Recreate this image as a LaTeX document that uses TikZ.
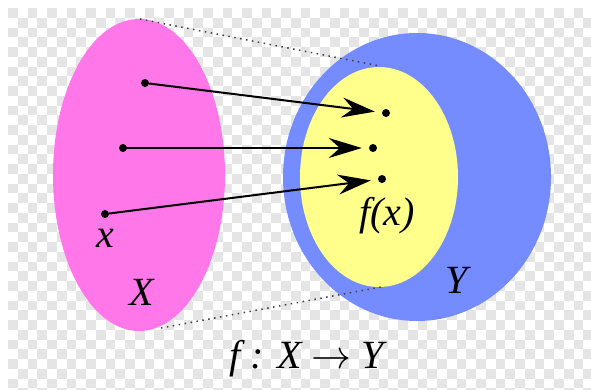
\RequirePackage{fix-cm}
\documentclass[tikz,border=0pt]{standalone}
\usepackage{fontspec}
\setmainfont{Liberation Serif}
\usetikzlibrary{arrows.meta}
\definecolor{setpink}{RGB}{255,119,233}
\definecolor{setblue}{RGB}{116,140,255}
\definecolor{setyellow}{RGB}{255,255,140}
\definecolor{checkgray}{RGB}{229,229,229}

\begin{document}
\begin{tikzpicture}[x=1pt,y=-1pt,
  pt/.style={circle,fill=black,inner sep=0pt,minimum size=8pt},
  maparrow/.style={-{Stealth[length=33pt,width=20pt,inset=11pt]},line width=2pt,shorten >=7pt},
  guide/.style={line width=1.5pt,dash pattern=on 1.5pt off 4.5pt,black!75},
  lbl/.style={font=\fontsize{40}{44}\selectfont\itshape}]
\useasboundingbox (0,0) rectangle (591,389);
% Background
\fill[white] (0,0) rectangle (591,389);
\begin{scope}
\clip (8,8) rectangle (591,389);
\foreach \i in {0,...,59}
  \foreach \j in {0,...,39} {
    \pgfmathtruncatemacro\odd{mod(\i+\j,2)}
    \ifnum\odd=0 \fill[checkgray] ({8+9.75*\i},{8+9.75*\j}) rectangle +(9.75,9.75); \fi
  }
\end{scope}
% Sets
\fill[setpink] (139,175) ellipse [x radius=86, y radius=156];
\fill[setblue] (417,177) ellipse [x radius=134, y radius=144];
\fill[setyellow] (379,177) ellipse [x radius=79, y radius=110];
% Guides
\coordinate (xtop) at (140,19);
\coordinate (ftop) at (380,66);
\coordinate (xbot) at (161,328);
\coordinate (fbot) at (381,287);
\draw[guide] (xtop) -- (ftop);
\draw[guide] (xbot) -- (fbot);
% Points
\node[pt] (a1) at (145,83) {};
\node[pt] (a2) at (123,148) {};
\node[pt] (a3) at (105,214) {};
\node[pt] (b1) at (386,113) {};
\node[pt] (b2) at (373,148) {};
\node[pt] (b3) at (382,179) {};
\draw[maparrow] (a1) -- (b1);
\draw[maparrow] (a2) -- (b2);
\draw[maparrow] (a3) -- (b3);
% Labels
\node[lbl] (xlbl) at (105,238) {x};
\node[lbl] (Xlbl) at (142,292) {X};
\node[lbl] (Ylbl) at (457,280) {Y};
\node[lbl] (fx) at (387,216) {f(x)};
\node[lbl] (map) at (307,359) {f : X $\rightarrow$ Y};
\end{tikzpicture}
\end{document}
